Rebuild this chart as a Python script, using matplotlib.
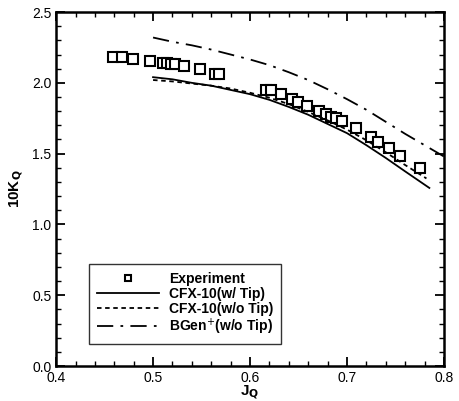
import matplotlib.pyplot as plt
import numpy as np
from matplotlib.ticker import MultipleLocator

plt.rcParams['font.family'] = ['Liberation Sans', 'DejaVu Sans']

# experiment
j_exp = [0.459, 0.468, 0.479, 0.497, 0.510, 0.514, 0.518, 0.523, 0.532, 0.548,
         0.564, 0.568, 0.617, 0.622, 0.632, 0.643, 0.650, 0.659, 0.671, 0.678,
         0.684, 0.689, 0.695, 0.709, 0.725, 0.732, 0.743, 0.755, 0.775]
kq_exp = [2.18, 2.18, 2.17, 2.155, 2.14, 2.14, 2.13, 2.13, 2.12, 2.10,
          2.06, 2.06, 1.95, 1.95, 1.92, 1.886, 1.867, 1.84, 1.80, 1.78,
          1.76, 1.75, 1.73, 1.68, 1.62, 1.585, 1.54, 1.48, 1.40]

# CFX-10 with tip
j_tip = [0.5, 0.52, 0.54, 0.56, 0.58, 0.60, 0.62, 0.64, 0.66, 0.68,
         0.70, 0.72, 0.74, 0.76, 0.785]
kq_tip = [2.04, 2.025, 2.00, 1.98, 1.95, 1.92, 1.88, 1.83, 1.775, 1.71,
          1.645, 1.56, 1.47, 1.375, 1.258]

# CFX-10 without tip
j_notip = [0.5, 0.52, 0.54, 0.56, 0.58, 0.60, 0.62, 0.64, 0.66, 0.68,
           0.70, 0.72, 0.74, 0.76, 0.782]
kq_notip = [2.02, 2.01, 1.995, 1.98, 1.96, 1.93, 1.895, 1.85, 1.795, 1.735,
            1.67, 1.595, 1.51, 1.42, 1.325]

# BGen+ without tip
j_bgen = [0.5, 0.52, 0.54, 0.56, 0.58, 0.60, 0.62, 0.64, 0.66, 0.68,
          0.70, 0.72, 0.74, 0.76, 0.78, 0.80]
kq_bgen = [2.32, 2.29, 2.265, 2.235, 2.20, 2.165, 2.125, 2.075, 2.02, 1.955,
           1.885, 1.81, 1.725, 1.64, 1.56, 1.48]

fig = plt.figure(figsize=(4.6, 4.01), dpi=100)
ax = fig.add_axes([0.122, 0.087, 0.843, 0.883])

ax.plot(j_exp, kq_exp, 's', mfc='white', mec='black', ms=7, mew=1.5,
        ls='none', label='Experiment')
ax.plot(j_tip, kq_tip, '-', c='black', lw=1.3, label='CFX-10(w/ Tip)')
ax.plot(j_notip, kq_notip, c='black', lw=1.3, dashes=(2.5, 2),
        label='CFX-10(w/o Tip)')
ax.plot(j_bgen, kq_bgen, c='black', lw=1.3, dashes=(9, 4, 1.5, 4),
        label='BGen$^{+}$(w/o Tip)')

ax.set_xlim(0.4, 0.8)
ax.set_ylim(0, 2.5)
ax.xaxis.set_major_locator(MultipleLocator(0.1))
ax.xaxis.set_minor_locator(MultipleLocator(0.02))
ax.yaxis.set_major_locator(MultipleLocator(0.5))
ax.yaxis.set_minor_locator(MultipleLocator(0.1))
ax.tick_params(which='both', direction='in', top=True, right=True,
               labelsize=10)
ax.tick_params(which='major', length=6.5, width=1.3)
ax.tick_params(which='minor', length=3.5, width=1)
ax.xaxis.set_major_formatter(plt.FuncFormatter(lambda v, p: '%.1f' % v))
ax.yaxis.set_major_formatter(plt.FuncFormatter(lambda v, p: '%.1f' % v))
for s in ax.spines.values():
    s.set_linewidth(1.8)

ax.set_xlabel('J$_\\mathbf{Q}$', fontsize=11, fontweight='bold', labelpad=-1)
ax.set_ylabel('10K$_\\mathbf{Q}$', fontsize=11, fontweight='bold', labelpad=4)

leg = ax.legend(loc='lower left', bbox_to_anchor=(0.085, 0.062, 0.495, 0.22),
                mode='expand', fancybox=False, edgecolor='black',
                borderaxespad=0, handlelength=4.5, handletextpad=0.7,
                markerscale=0.7, borderpad=0.55, labelspacing=0.05,
                prop={'weight': 'bold', 'size': 10})
leg.get_frame().set_linewidth(1)

fig.savefig('out.png', dpi=100)
